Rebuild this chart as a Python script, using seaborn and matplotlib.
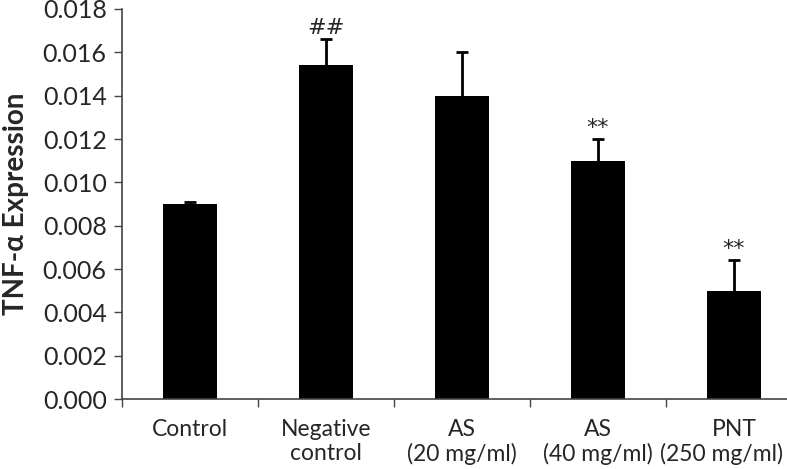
import matplotlib
matplotlib.use("Agg")
import matplotlib.pyplot as plt
import seaborn as sns
import numpy as np
import pandas as pd

# Dados
groups = ["Control", "Negative\ncontrol", "AS\n(20 mg/ml)", "AS\n(40 mg/ml)", "PNT\n(250 mg/ml)"]
values = [0.0090, 0.0154, 0.0140, 0.0110, 0.0050]
errors = [0.0001, 0.0012, 0.0020, 0.0010, 0.0014]
marks = ["", "##", "", "**", "**"]

sns.set_style("white")
plt.rcParams['font.family'] = ['Lato', 'DejaVu Sans']

fig = plt.figure(figsize=(7.87, 4.69), dpi=100)
ax = fig.add_axes([122 / 787, 1 - 399 / 469, 680 / 787, 390 / 469])

df = pd.DataFrame({"group": groups, "value": values})
sns.barplot(data=df, x="group", y="value", color="black", width=0.39,
            saturation=1, errorbar=None, ax=ax)
for p in ax.patches:
    p.set_edgecolor("none")

x = np.arange(len(groups))
_, caps, _ = ax.errorbar(x, values, yerr=[np.zeros(len(errors)), errors], fmt="none",
                         ecolor="black", elinewidth=2, capsize=4.5, capthick=2)
# só a barra de erro superior
caps[0].set_visible(False)

for xi, v, e, m in zip(x, values, errors, marks):
    if m:
        ax.text(xi, v + e + 0.00005, m, ha="center", va="bottom",
                fontsize=16, family=["DejaVu Sans"])

ax.set_ylim(0, 0.018)
ax.set_xlim(-0.5, len(groups) - 0.5)
yt = np.arange(0, 0.0181, 0.002)
ax.set_yticks(yt)
ax.set_yticklabels([f"{t:.3f}" for t in yt], fontsize=18)

# ticks nas fronteiras das categorias, rótulos escritos à mão abaixo
ax.set_xticks(np.arange(-0.5, len(groups), 1.0))
ax.set_xticklabels([])
ax.tick_params(axis="x", length=6, width=1, direction="out", color="#444444", bottom=True)
ax.tick_params(axis="y", length=6, width=1, direction="out", color="#444444", left=True, pad=5)

# o último rótulo fica um pouco deslocado para a esquerda (como no Excel)
shifts = [0, 0, 0, 0, -0.09]
for xi, g, s in zip(x, groups, shifts):
    lines = g.split("\n")
    ax.text(xi, -0.052, lines[0], transform=ax.get_xaxis_transform(),
            ha="center", va="top", fontsize=16.5)
    if len(lines) > 1:
        ax.text(xi + s, -0.113, lines[1], transform=ax.get_xaxis_transform(),
                ha="center", va="top", fontsize=16.5)

ax.set_xlabel("")
ax.set_ylabel("TNF-α Expression", fontsize=20, fontweight="bold", labelpad=10)

for s in ["top", "right"]:
    ax.spines[s].set_visible(False)
for s in ["left", "bottom"]:
    ax.spines[s].set_color("#444444")
    ax.spines[s].set_linewidth(1.2)

fig.savefig("out.png", dpi=100)
